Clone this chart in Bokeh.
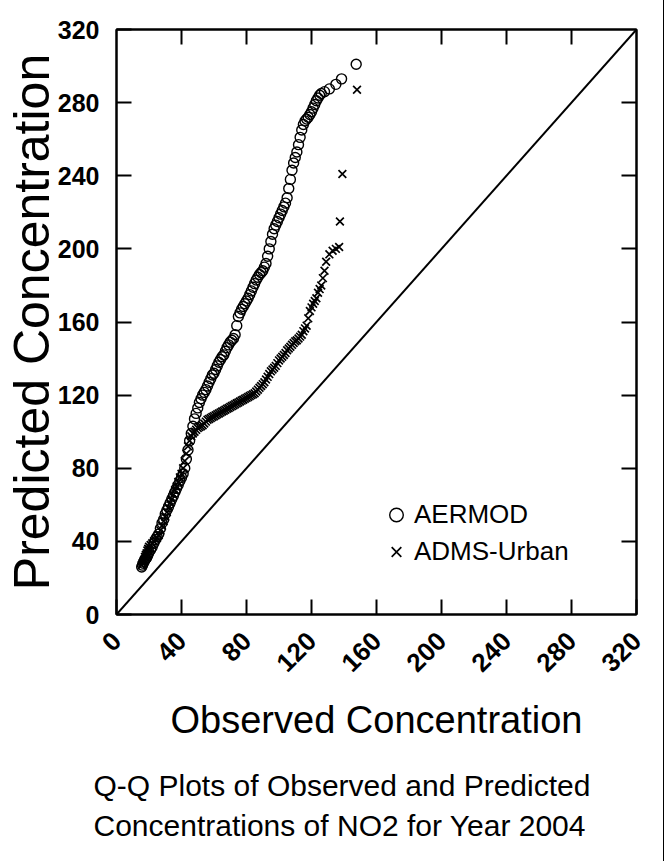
from bokeh.plotting import figure
from bokeh.models import Range1d, FixedTicker, LinearAxis, Legend, LegendItem, Title
from bokeh.embed import file_html
from bokeh.resources import INLINE

# ---- data ----
aermod_obs = [15.5, 16, 16.5, 17, 17.5, 18, 18.5, 19, 19.5, 20, 21, 22, 23, 24, 25, 26, 27, 28, 29, 30,
              31, 32, 33, 34, 35, 36, 37, 38, 39, 40, 41, 42, 43, 44, 45, 46, 47, 48, 49, 50,
              51, 52, 53, 54, 55, 56, 57, 58, 59, 60, 61, 62, 63, 64, 65, 66, 67, 68, 69, 70,
              71, 72, 73, 74, 75, 76, 77, 78, 79, 80, 81, 82, 83, 84, 85, 86, 87, 88, 89, 90,
              91, 92, 93, 94, 95, 96, 97, 98, 99, 100, 101, 102, 103, 104, 105, 106, 107, 108, 109, 110,
              111, 112, 113, 114, 115, 116, 117, 118, 119, 120, 121, 122, 123, 124, 125, 126, 128, 131, 135, 138.5,
              147.5]
aermod_pred = [26, 27, 28, 29, 30, 30.5, 31, 32, 33, 34, 35.5, 37, 39, 41, 42.5, 44, 47, 50, 52, 55,
               57, 59, 61, 63, 65, 67, 69, 71, 73, 75, 77, 80, 85, 90, 95, 99, 103, 107, 110, 113,
               116, 118, 120, 121.5, 123, 125, 127, 129, 131, 132, 134, 136, 138, 139.5, 141, 142, 144, 146, 147.5, 149,
               150, 151, 153, 158, 163, 165, 167, 168.5, 170, 171.5, 173, 175, 177, 179, 181, 183, 184.5, 186, 187, 188,
               190, 192, 196, 200, 204, 208, 211, 213, 215, 217, 219, 221, 223, 225, 228, 233, 238, 243, 247, 250,
               253, 257, 261, 265, 268, 270, 271, 272, 273.5, 275, 277, 279, 281, 282.5, 284, 285, 286, 287.5, 290, 293,
               301]

adms_obs = [15.5, 16, 16.5, 17, 17.5, 18, 18.5, 19, 19.5, 20, 21, 22, 23, 24, 25, 26, 27, 28, 29, 30,
            31, 32, 33, 34, 35, 36, 37, 38, 39, 40, 41, 42, 43, 44, 45, 46, 47, 48, 49, 50,
            51, 52, 53, 54, 55, 56, 57, 58, 59, 60, 61, 62, 63, 64, 65, 66, 67, 68, 69, 70,
            71, 72, 73, 74, 75, 76, 77, 78, 79, 80, 81, 82, 83, 84, 85, 86, 87, 88, 89, 90,
            91, 92, 93, 94, 95, 96, 97, 98, 99, 100, 101, 102, 103, 104, 105, 106, 107, 108, 109, 110,
            111, 112, 113, 114, 115, 116, 117, 118, 119, 120, 121, 122, 123, 124, 125, 126, 127, 128, 129, 131,
            133, 135, 137, 137.5, 139, 148]
adms_pred = [27, 28, 29, 30, 31.5, 32.5, 33.5, 35, 36, 37, 38, 39, 40, 41, 42, 43.5, 46, 48.5, 51, 53.5,
             56, 58.5, 61, 63, 65.5, 68, 70, 72.5, 75, 77, 80, 84, 88, 92, 95, 97.5, 99, 100, 101, 102,
             102.5, 103, 103.5, 104.5, 105.5, 106.5, 107, 107.5, 108, 108.5, 109, 109.5, 110, 110.5, 111, 111.5, 112, 112.5, 113, 113.5,
             114, 114.5, 115, 115.5, 116, 116.5, 117, 117.5, 118, 118.5, 119, 119.5, 120, 120.5, 121, 122, 123, 124, 125, 126,
             127, 128.5, 130, 131.5, 133, 134, 135, 136, 137.5, 139, 140, 141, 142, 143, 144.5, 145.5, 146.5, 147.5, 148.5, 149.5,
             150, 151, 152, 153, 155, 156.5, 158, 162, 166, 168, 170, 171.5, 173, 176, 178, 180, 184, 188, 193, 197,
             199, 200, 201, 215, 241, 287]

diag = [0, 320]
ticks = [0, 40, 80, 120, 160, 200, 240, 280, 320]
inner_ticks = [40, 80, 120, 160, 200, 240, 280]
series_names = ["AERMOD", "ADMS-Urban"]
x_title = "Observed Concentration"
y_title = "Predicted Concentration"
caption1 = "Q-Q Plots of Observed and Predicted"
caption2 = "Concentrations of NO2 for Year 2004"

SANS = "'Liberation Sans', Arial, sans-serif"

p = figure(frame_width=520, frame_height=585,
           x_range=Range1d(0, 320), y_range=Range1d(0, 320),
           output_backend="svg", toolbar_location=None,
           min_border_left=20, min_border_right=22, min_border_top=28, min_border_bottom=0,
           background_fill_color="white", border_fill_color="white")
p.grid.visible = False
p.outline_line_color = "black"
p.outline_line_width = 2

for ax in (p.xaxis[0], p.yaxis[0]):
    ax.ticker = FixedTicker(ticks=ticks)
    ax.axis_line_width = 2
    ax.major_tick_line_width = 2
    ax.major_tick_in = 15
    ax.major_tick_out = 0
    ax.minor_tick_line_color = None
    ax.major_label_text_font = SANS
    ax.major_label_text_font_style = "bold"
    ax.major_label_text_font_size = "25px"
    ax.major_label_text_color = "black"
    ax.axis_label_text_font_style = "normal"
    ax.axis_label_text_color = "black"

p.xaxis.axis_label = x_title
p.xaxis.axis_label_text_font = SANS
p.xaxis.axis_label_text_font_size = "38px"
p.xaxis.major_label_text_font_size = "26px"
p.xaxis.major_label_orientation = 0.785398
p.xaxis.major_label_standoff = 22
p.xaxis.axis_label_standoff = 16

p.yaxis.axis_label = y_title
p.yaxis.axis_label_text_font = SANS
p.yaxis.axis_label_text_font_size = "50px"
p.yaxis.major_label_standoff = 17
p.yaxis.axis_label_standoff = -5

for side in ("above", "right"):
    ax = LinearAxis(ticker=FixedTicker(ticks=inner_ticks), axis_line_width=2,
                    major_tick_line_width=2, major_tick_in=15, major_tick_out=0,
                    minor_tick_line_color=None, major_label_text_font_size="1px",
                    major_label_text_color=None, major_label_standoff=0)
    p.add_layout(ax, side)

p.line(diag, diag, line_color="black", line_width=2)

r_adms = p.scatter(adms_obs, adms_pred, marker="x", size=11, line_color="black", line_width=1.7)
r_aer = p.scatter(aermod_obs, aermod_pred, marker="circle", size=10, line_color="black",
                  line_width=1.4, fill_alpha=0)

legend = Legend(items=[LegendItem(label=series_names[0], renderers=[r_aer]),
                       LegendItem(label=series_names[1], renderers=[r_adms])],
                location=(263, 44), glyph_width=34, glyph_height=37, spacing=0, padding=0,
                label_standoff=1, label_text_font=SANS, label_text_font_size="26px",
                label_text_color="black", border_line_color=None, background_fill_alpha=0)
p.add_layout(legend)

t1 = Title(text=caption1 + "\n" + caption2, align="left", offset=-23, text_font=SANS,
           text_font_size="30px", text_font_style="normal", text_color="black",
           text_line_height=1.24, standoff=46)
p.add_layout(t1, "below")

p.styles = {"border": "1px solid black", "margin-left": "-6px", "margin-top": "-5px",
            "padding": "5px 5px 0px 5px"}

open("out.html", "w").write(file_html(p, INLINE))
